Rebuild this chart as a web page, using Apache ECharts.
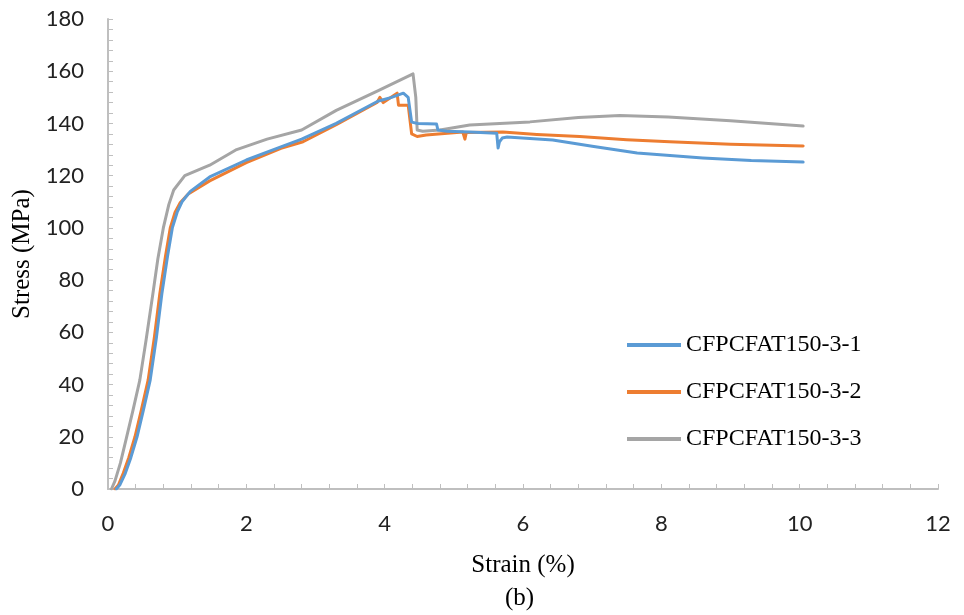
<!DOCTYPE html>
<html>
<head>
<meta charset="utf-8">
<title>Stress-strain</title>
<script src="https://cdn.jsdelivr.net/npm/echarts@6/dist/echarts.min.js"></script>
<style>
  html, body { margin: 0; padding: 0; background: #fff; }
  #chart { width: 964px; height: 615px; }
</style>
</head>
<body>
<div id="chart"></div>
<script>
// 曲线数据（从图上读出来的估计值）
const names = ["CFPCFAT150-3-1", "CFPCFAT150-3-2", "CFPCFAT150-3-3"];
const colors = ["#5B9BD5", "#ED7D31", "#A5A5A5"];

const strain1 = [0.12, 0.17, 0.25, 0.33, 0.42, 0.51, 0.61, 0.7, 0.78, 0.86, 0.93, 1.0, 1.07, 1.19, 1.47, 2.0, 2.5, 2.8, 3.3, 3.9, 4.1, 4.27, 4.34, 4.39, 4.48, 4.75, 4.77, 4.9, 5.23, 5.62, 5.64, 5.66, 5.7, 5.77, 6.43, 7.0, 7.65, 8.6, 9.3, 10.05];
const stress1 = [0, 1.5, 6, 12, 20, 30, 41.7, 58, 75, 89, 100, 106, 110, 114, 119.5, 126, 131, 134, 140, 148.5, 150, 151.6, 150, 140.5, 140, 139.8, 137.5, 137, 136.7, 136.2, 130.6, 133, 134.4, 134.8, 133.7, 131.3, 128.7, 126.8, 125.8, 125.2];

const strain2 = [0.1, 0.15, 0.22, 0.3, 0.39, 0.48, 0.58, 0.67, 0.75, 0.83, 0.9, 0.97, 1.04, 1.16, 1.47, 2.0, 2.5, 2.82, 3.3, 3.89, 3.93, 3.98, 4.18, 4.2, 4.34, 4.39, 4.47, 4.6, 5.13, 5.16, 5.18, 5.71, 6.2, 6.82, 7.5, 8.12, 9.0, 10.05];
const stress2 = [0, 1.5, 6, 12, 20, 30, 41.7, 58, 75, 89, 100, 106, 109.5, 113, 118, 125, 130.5, 133, 139.5, 148, 150, 148, 151.6, 147, 147, 136, 135, 135.6, 136.7, 134, 136.5, 136.7, 135.8, 135, 133.8, 133, 132, 131.4];

const strain3 = [0.05, 0.1, 0.18, 0.27, 0.36, 0.46, 0.55, 0.65, 0.72, 0.8, 0.88, 0.95, 1.11, 1.47, 1.86, 2.3, 2.8, 3.3, 3.9, 4.41, 4.45, 4.47, 4.55, 4.8, 5.23, 6.1, 6.8, 7.4, 8.1, 9.0, 10.05];
const stress3 = [0, 3, 10, 20, 30, 41.7, 57, 75, 88, 100, 109, 114.5, 120, 124, 130, 134, 137.5, 145, 152.5, 159, 150, 137.5, 137, 137.5, 139.4, 140.6, 142.3, 143, 142.5, 141, 139];

const xTicks = [0, 2, 4, 6, 8, 10, 12];
const yTicks = [0, 20, 40, 60, 80, 100, 120, 140, 160, 180];

const zip = (xs, ys) => xs.map((x, i) => [x, ys[i]]);
const curves = [zip(strain1, stress1), zip(strain2, stress2), zip(strain3, stress3)];

const chart = echarts.init(document.getElementById("chart"));

const axisGray = "#BFBFBF";
const serif = "'Liberation Serif', 'Times New Roman', serif";
const sans = "Lato, 'Open Sans', sans-serif";

const option = {
  animation: false,
  backgroundColor: "#fff",
  grid: { left: 108, right: 26, top: 19, bottom: 126, outerBoundsMode: "none" },
  legend: {
    orient: "vertical",
    left: 622,
    top: 328,
    itemWidth: 54,
    itemHeight: 4,
    itemGap: 23,
    icon: "rect",
    data: names,
    textStyle: { fontFamily: serif, fontSize: 24, color: "#000", lineHeight: 24 }
  },
  xAxis: {
    type: "value",
    min: xTicks[0],
    max: xTicks[xTicks.length - 1],
    interval: 2,
    name: "Strain (%)",
    nameLocation: "middle",
    nameGap: 64,
    nameTextStyle: { fontFamily: serif, fontSize: 25, color: "#000" },
    axisLine: { lineStyle: { color: axisGray, width: 2 } },
    axisTick: { show: true, inside: true, length: 5, lineStyle: { color: axisGray } },
    minorTick: { show: true, splitNumber: 5, length: 5, lineStyle: { color: axisGray } },
    splitLine: { show: false },
    axisLabel: { fontFamily: sans, fontSize: 22, color: "#222", margin: 24 }
  },
  yAxis: {
    type: "value",
    min: yTicks[0],
    max: yTicks[yTicks.length - 1],
    interval: 20,
    name: "Stress (MPa)",
    nameLocation: "middle",
    nameGap: 64,
    nameTextStyle: { fontFamily: serif, fontSize: 25, color: "#000" },
    axisLine: { show: true, lineStyle: { color: axisGray, width: 2 } },
    axisTick: { show: true, inside: true, length: 5, lineStyle: { color: axisGray } },
    minorTick: { show: true, splitNumber: 5, length: 5, lineStyle: { color: axisGray } },
    splitLine: { show: false },
    axisLabel: { fontFamily: sans, fontSize: 22, color: "#222", margin: 24 }
  },
  graphic: [
    {
      type: "text",
      left: 505,
      top: 586,
      style: { text: "(b)", font: "25px " + serif, fill: "#000" }
    }
  ],
  series: curves.map((d, i) => ({
    name: names[i],
    type: "line",
    data: d,
    showSymbol: false,
    symbol: "none",
    smooth: false,
    color: colors[i],
    lineStyle: { width: 3, color: colors[i], join: "round", cap: "round" },
    z: 3 - i
  }))
};

chart.setOption(option);
</script>
</body>
</html>
